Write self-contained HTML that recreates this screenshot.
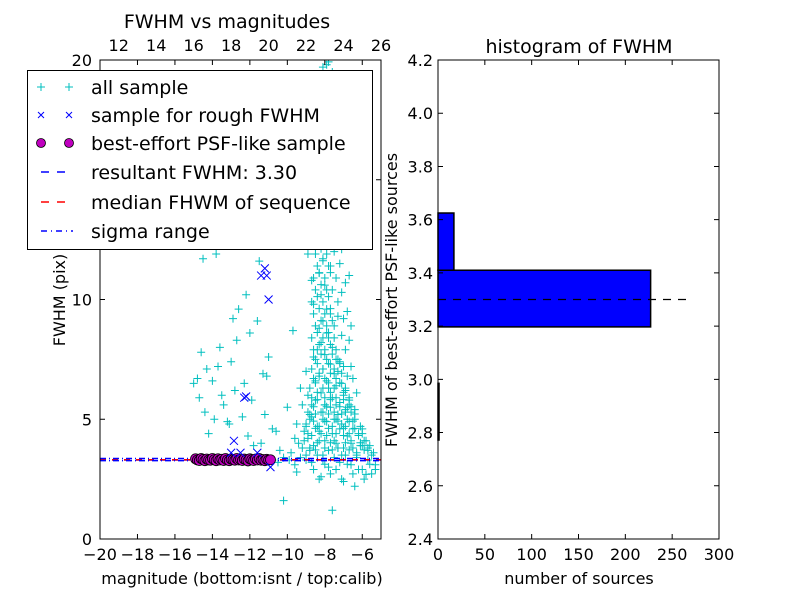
<!DOCTYPE html>
<html><head><meta charset="utf-8"><style>
body{margin:0;background:#fff;}
svg text{font-family:"DejaVu Sans","Liberation Sans",sans-serif;fill:#000;}
</style></head><body>
<svg id="c" width="800" height="600" viewBox="0 0 800 600" xmlns="http://www.w3.org/2000/svg"></svg>
<script>
// ---- data: left scatter ----
const allSampleMag = [-10.8,-10.5,-10.2,-9.9,-9.6,-9.3,-9.0,-8.7,-8.4,-8.1,-7.8,-7.5,-7.2,-6.9,-6.6,-6.3,-6.0,-5.7,-5.4,-9.5,-8.2,-7.0,-6.4,-5.8,-10.2,-7.6,-8.8,-7.3,-6.1,
-9.2,-8.9,-8.6,-8.3,-8.0,-7.8,-7.6,-7.4,-7.2,-7.0,-6.8,-6.6,-6.3,-6.0,-5.7,-9.0,-8.7,-8.4,-8.1,-7.9,-7.7,-7.5,-7.3,-7.1,-6.9,-6.7,-6.5,-6.2,-5.9,
-8.5,-8.2,-8.0,-7.8,-7.6,-7.4,-7.2,-7.0,-6.8,-6.6,-6.4,-8.3,-8.1,-7.9,-7.7,-7.5,-7.3,-7.1,-6.9,-6.7,-8.6,-8.4,-8.2,-8.0,-7.8,-7.6,-7.4,-7.2,-7.0,-6.8,
-9.4,-9.1,-8.8,-8.5,-8.3,-8.1,-7.9,-7.7,-7.5,-7.3,-7.1,-6.9,-6.6,-6.3,-9.6,-9.2,-8.9,-8.6,-8.2,-7.9,-7.6,-7.3,-7.0,-6.7,-6.4,-6.0,-5.6,-5.3,
-9.8,-9.5,-9.0,-8.7,-8.3,-8.0,-7.7,-7.4,-7.1,-6.8,-6.5,-9.3,-8.9,-8.5,-8.1,-7.8,-7.5,-7.2,-6.9,-6.6,-9.1,-8.6,-8.2,-7.9,-7.5,-7.1,-6.7,
-9.0,-8.6,-8.3,-8.0,-7.7,-7.3,-7.0,-8.8,-8.4,-8.1,-7.8,-7.5,-7.2,-8.5,-8.2,-7.9,-7.6,-7.3,-8.3,-8.0,-7.7,-7.4,-8.1,-7.8,-7.5,-7.9,-7.6,
-15.0,-14.8,-14.6,-14.4,-14.2,-14.0,-13.8,-13.6,-13.4,-13.2,-13.0,-12.8,-12.6,-12.4,-12.2,-12.0,-11.8,-11.6,-11.4,-11.2,-11.0,-10.8,-14.7,-14.3,-13.9,-13.5,-13.1,-12.7,-12.3,-11.9,-11.5,-11.1,-10.6,-10.3,-14.5,-13.7,-12.9,-12.1,-11.3,-10.4,-10.0,-9.7];
const allSampleFwhm = [3.3,3.2,3.4,3.3,3.1,3.4,3.3,3.2,3.5,3.3,3.0,3.4,3.2,3.5,3.1,3.4,2.9,3.3,3.6,2.8,2.6,2.4,2.2,2.7,1.6,1.2,3.7,3.8,3.9,
3.8,4.2,3.9,4.5,4.1,3.7,4.4,4.0,4.6,3.8,4.3,4.0,3.6,3.9,3.7,4.8,5.1,4.7,5.3,4.9,5.5,5.0,5.2,4.8,5.4,4.9,4.6,4.4,4.1,
5.8,6.1,5.6,6.3,5.9,6.4,5.7,6.0,5.5,5.3,5.0,6.8,7.1,6.6,7.3,6.9,7.0,6.5,6.2,5.8,7.6,7.9,8.2,7.7,8.4,8.0,7.5,7.4,7.2,6.8,
4.0,4.5,5.2,6.6,8.8,9.1,8.6,9.4,8.9,9.3,8.5,7.9,7.2,6.1,4.2,5.6,6.0,9.8,10.2,9.6,10.4,9.9,9.2,8.3,5.4,4.6,3.9,3.1,
3.6,4.8,7.0,10.8,11.1,10.6,11.4,10.9,10.3,9.5,6.7,6.3,11.9,12.2,11.7,12.4,12.0,11.5,10.7,8.9,13.1,12.9,13.4,13.0,12.6,12.1,11.0,
14.2,14.0,14.5,13.8,14.3,13.6,12.8,15.4,15.1,15.6,15.0,14.8,14.1,16.4,16.7,16.2,16.0,15.5,17.5,17.8,17.2,16.9,18.6,18.9,18.3,19.8,19.5,
6.5,6.7,7.8,5.3,4.4,6.6,11.9,8.0,5.6,4.9,7.4,6.2,9.6,5.1,10.2,8.6,3.9,9.1,4.0,5.2,7.6,4.6,5.9,7.1,5.0,6.0,4.8,8.3,6.5,5.8,11.6,6.8,4.5,12.3,11.7,7.2,9.2,4.3,6.9,3.7,5.5,8.7];
// dense cloud of faint sources, grouped by FWHM level
const cloudRowFwhm = [2.6,3.0,3.6,3.9,4.2,4.5,4.8,5.1,5.4,5.7,6.0,6.4,6.8,7.2,7.6,8.0,8.5,9.0,9.5,10.0,10.5,11.0,11.5,12.0,13.0,14.0,15.0,16.0,17.0,18.0,19.0,19.8];
const cloudRowMags = [
 [-8.3,-7.7,-7.1,-6.5,-5.9,-5.5],
 [-8.6,-8.0,-7.4,-6.8,-6.2,-5.6,-5.3],
 [-9.0,-8.5,-8.1,-7.6,-7.1,-6.7,-6.3,-5.9,-5.5],
 [-8.8,-8.4,-8.0,-7.7,-7.3,-6.9,-6.5,-6.1,-5.7],
 [-9.1,-8.7,-8.3,-7.9,-7.5,-7.0,-6.6,-6.2,-5.8],
 [-8.9,-8.5,-8.2,-7.8,-7.4,-7.0,-6.7,-6.4,-6.0],
 [-9.0,-8.6,-8.3,-8.0,-7.6,-7.3,-6.9,-6.5,-6.1],
 [-8.8,-8.5,-8.1,-7.8,-7.4,-7.1,-6.8,-6.4],
 [-8.9,-8.6,-8.2,-7.9,-7.5,-7.2,-6.9,-6.6],
 [-8.7,-8.4,-8.0,-7.7,-7.4,-7.0,-6.7],
 [-8.7,-8.4,-8.0,-7.7,-7.4,-7.0,-6.7],
 [-8.8,-8.5,-8.1,-7.8,-7.5,-7.2,-6.9],
 [-8.6,-8.3,-8.0,-7.7,-7.4,-7.1],
 [-8.7,-8.4,-8.1,-7.8,-7.5,-7.2],
 [-8.5,-8.2,-7.9,-7.6,-7.3],
 [-8.6,-8.3,-8.0,-7.7,-7.4],
 [-8.7,-8.4,-8.1,-7.8,-7.5],
 [-8.5,-8.2,-7.9,-7.6],
 [-8.6,-8.3,-8.0,-7.7],
 [-8.7,-8.4,-8.1,-7.8],
 [-8.5,-8.2,-7.9],
 [-8.6,-8.3,-8.0,-7.7],
 [-8.4,-8.1,-7.8],
 [-8.5,-8.2,-7.9],
 [-8.3,-8.0,-7.7],
 [-8.4,-8.1],
 [-8.2,-7.9],
 [-8.3,-8.0],
 [-8.1,-7.8],
 [-8.2,-7.9],
 [-8.0,-7.7],
 [-8.1,-7.8]];
const roughMag  = [-11.4,-11.2,-11.1,-11.0,-11.2,-12.3,-12.2,-12.85,-10.9,-13.0,-12.5,-11.6];
const roughFwhm = [11.0,11.3,11.0,10.0,12.3,5.9,5.95,4.1,3.0,3.6,3.6,3.6];
const psfMag  = [-14.9,-14.8,-14.7,-14.6,-14.5,-14.4,-14.3,-14.2,-14.1,-14.0,-13.9,-13.8,-13.7,-13.6,-13.5,-13.4,-13.3,-13.2,-13.1,-13.0,-12.9,-12.8,-12.7,-12.6,-12.5,-12.4,-12.3,-12.2,-12.1,-12.0,-11.9,-11.8,-11.7,-11.6,-11.5,-11.4,-11.3,-11.2,-11.1,-11.0,-10.9];
const psfFwhm = [3.35,3.3,3.28,3.36,3.32,3.27,3.34,3.3,3.29,3.36,3.31,3.27,3.35,3.3,3.33,3.28,3.36,3.3,3.27,3.34,3.31,3.29,3.36,3.3,3.32,3.28,3.34,3.3,3.26,3.35,3.31,3.28,3.34,3.3,3.36,3.29,3.32,3.27,3.33,3.3,3.31];
const resultFwhm = 3.30, medianFwhm = 3.31, sigmaLow = 3.27, sigmaHigh = 3.36;
const xTicksBottom = [-20,-18,-16,-14,-12,-10,-8,-6];
const xTicksTop = [12,14,16,18,20,22,24,26];
const yTicksLeft = [0,5,10,15,20];
// ---- data: histogram ----
const binEdges = [2.772,2.985,3.197,3.41,3.625];
const binCounts = [1,0,227,17];
const histYTicks = [2.4,2.6,2.8,3.0,3.2,3.4,3.6,3.8,4.0,4.2];
const histXTicks = [0,50,100,150,200,250,300];
const histLineCount = 272;

const NS='http://www.w3.org/2000/svg', svg=document.getElementById('c');
function mk(tag,attrs,parent){const e=document.createElementNS(NS,tag);for(const k in attrs)e.setAttribute(k,attrs[k]);(parent||svg).appendChild(e);return e;}
function txt(s,x,y,size,anchor,parent){const t=mk('text',{x:x,y:y,'font-size':size,'text-anchor':anchor||'middle'},parent);t.textContent=s;return t;}

// left axes
const L={x0:100,x1:381,y0:539,y1:60};
const lx=m=>L.x0+(m+20)*(L.x1-L.x0)/15, ly=f=>L.y0-f*(L.y0-L.y1)/20, topx=c=>lx(c-31);
const gL=mk('g',{});


const clipL=mk('clipPath',{id:'cl'});mk('rect',{x:L.x0,y:L.y1,width:L.x1-L.x0,height:L.y0-L.y1},clipL);
const plot=mk('g',{'clip-path':'url(#cl)'},gL);
function plus(m,f){const x=lx(m),y=ly(f);
 const p=mk('path',{d:`M${x-4},${y}H${x+4}M${x},${y-4}V${y+4}`,stroke:'#00bfbf','stroke-width':1},plot);
 
 }
allSampleMag.forEach((m,i)=>plus(m,allSampleFwhm[i]));
cloudRowFwhm.forEach((f,r)=>cloudRowMags[r].forEach((m,j)=>plus(m,f+(j%2?0.12:-0.1))));
const hl=(f,col,dash)=>mk('line',{x1:L.x0,x2:L.x1,y1:ly(f),y2:ly(f),stroke:col,'stroke-width':1.5,'stroke-dasharray':dash},plot);
let l1=hl(resultFwhm,'#0000ff','6,6');
let l2=hl(medianFwhm,'#ff0000','6,6');
let l3=hl(sigmaLow,'#0000ff','6,3,1,3');
let l4=hl(sigmaHigh,'#0000ff','6,3,1,3');
psfMag.forEach((m,i)=>{const c=mk('circle',{cx:lx(m),cy:ly(psfFwhm[i]),r:5,fill:'#bf00bf',stroke:'#000','stroke-width':0.8},plot);
 
 });
roughMag.forEach((m,i)=>{const x=lx(m),y=ly(roughFwhm[i]);
 const p=mk('path',{d:`M${x-4},${y-4}L${x+4},${y+4}M${x-4},${y+4}L${x+4},${y-4}`,stroke:'#0000ff','stroke-width':1},plot);
 
 });
mk('rect',{x:L.x0,y:L.y1,width:L.x1-L.x0,height:L.y0-L.y1,fill:'none',stroke:'#000','stroke-width':1},gL);
xTicksBottom.forEach(v=>{const x=lx(v);mk('path',{d:`M${x},${L.y0}v-5M${x},${L.y1}v5`,stroke:'#000'},gL);txt(v<0?'\u2212'+(-v):v,x,L.y0+21,16,'middle',gL);});
xTicksTop.forEach(v=>{const x=topx(v);txt(v,x,L.y1-9,16,'middle',gL);});
yTicksLeft.forEach(v=>{const y=ly(v);mk('path',{d:`M${L.x0},${y}h5M${L.x1},${y}h-5`,stroke:'#000'},gL);txt(v,L.x0-8,y+6,16,'end',gL);});
txt('FWHM vs magnitudes',227,28,19,'middle',gL);
txt('magnitude (bottom:isnt / top:calib)',242,584,16,'middle',gL);
const yl=txt('FWHM (pix)',0,0,16,'middle',gL);yl.setAttribute('transform','translate(65,300) rotate(-90)');

// legend
const lg=mk('g',{});


mk('rect',{x:27.5,y:70.5,width:345,height:179,fill:'#fff',stroke:'#000','stroke-width':1},lg);
const rows=[87,115,143,172,202,231];
const labels=['all sample','sample for rough FWHM','best-effort PSF-like sample','resultant FWHM: 3.30','median FHWM of sequence','sigma range'];
rows.forEach((y,i)=>{[41,69].forEach(x=>{
 if(i==0)mk('path',{d:`M${x-4},${y}H${x+4}M${x},${y-4}V${y+4}`,stroke:'#00bfbf'},lg);
 if(i==1)mk('path',{d:`M${x-3},${y-3}L${x+3},${y+3}M${x-3},${y+3}L${x+3},${y-3}`,stroke:'#0000ff'},lg);
 if(i==2)mk('circle',{cx:x,cy:y,r:4.5,fill:'#bf00bf',stroke:'#000','stroke-width':0.8},lg);});
 if(i==3)mk('line',{x1:41,x2:73,y1:y,y2:y,stroke:'#0000ff','stroke-width':1.5,'stroke-dasharray':'8,8'},lg);
 if(i==4)mk('line',{x1:41,x2:73,y1:y,y2:y,stroke:'#ff0000','stroke-width':1.5,'stroke-dasharray':'8,8'},lg);
 if(i==5)mk('line',{x1:41,x2:73,y1:y,y2:y,stroke:'#0000ff','stroke-width':1.5,'stroke-dasharray':'6,4,1,4'},lg);
 const t=txt(labels[i],91,y+7,19,'start',lg);
 
 });

// right histogram
const R={x0:438,x1:719,y0:539,y1:60};
const rx=c=>R.x0+c*(R.x1-R.x0)/300, ry=f=>R.y0-(f-2.4)*(R.y0-R.y1)/1.8;
const gR=mk('g',{});


binCounts.forEach((c,i)=>{if(c<=0)return;const y1=ry(binEdges[i+1]),y0=ry(binEdges[i]);
 const b=mk('rect',{x:rx(0),y:y1,width:Math.max(rx(c)-rx(0),1),height:y0-y1,fill:'#0000ff',stroke:'#000','stroke-width':1.5},gR);
 
 });
const dl=mk('line',{x1:rx(0),x2:rx(histLineCount),y1:ry(resultFwhm),y2:ry(resultFwhm),stroke:'#000','stroke-width':1.3,'stroke-dasharray':'8,7'},gR);


mk('rect',{x:R.x0,y:R.y1,width:R.x1-R.x0,height:R.y0-R.y1,fill:'none',stroke:'#000','stroke-width':1},gR);
histXTicks.forEach(v=>{const x=rx(v);mk('path',{d:`M${x},${R.y0}v-5M${x},${R.y1}v5`,stroke:'#000'},gR);txt(v,x,R.y0+21,16,'middle',gR);});
histYTicks.forEach(v=>{const y=ry(v);mk('path',{d:`M${R.x0},${y}h5M${R.x1},${y}h-5`,stroke:'#000'},gR);txt(v.toFixed(1),R.x0-5,y+6,16,'end',gR);});
txt('histogram of FWHM',579,53,19,'middle',gR);
txt('number of sources',579,584,16,'middle',gR);
const yl2=txt('FWHM of best-effort PSF-like sources',0,0,16,'middle',gR);yl2.setAttribute('transform','translate(397,300) rotate(-90)');
</script>
</body></html>
